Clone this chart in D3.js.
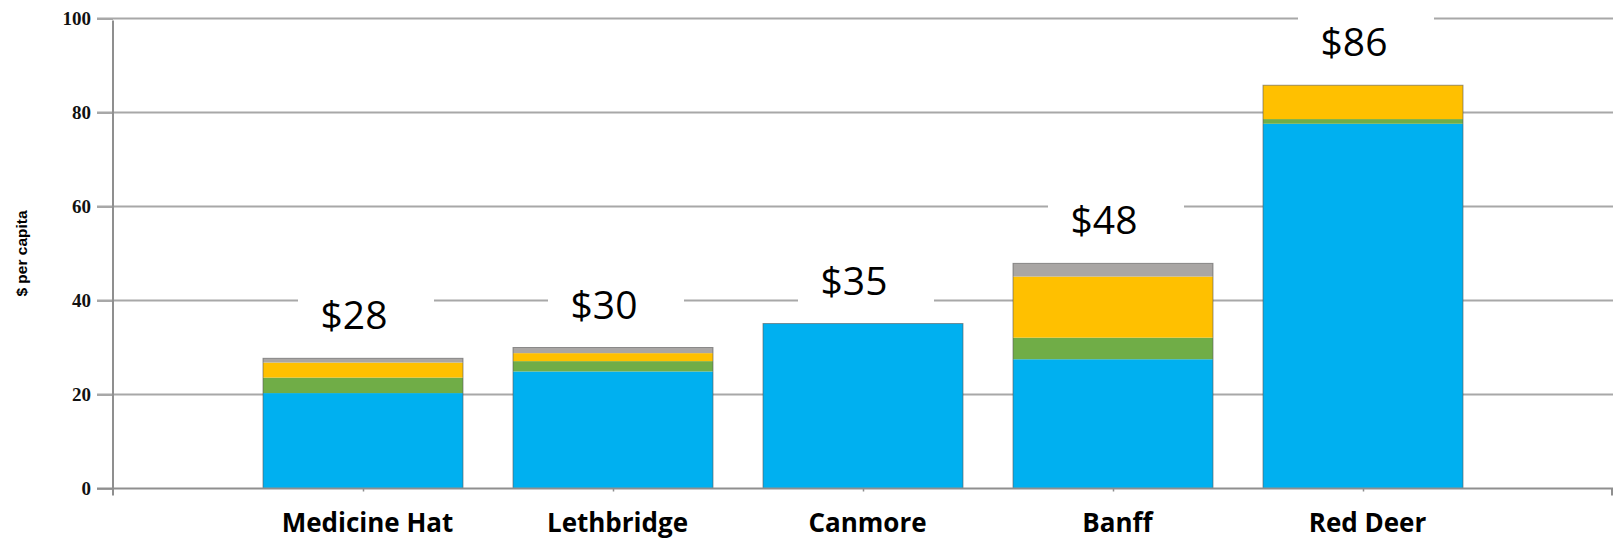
<!DOCTYPE html>
<html>
<head>
<meta charset="utf-8">
<script src="https://cdn.jsdelivr.net/npm/d3@7"></script>
<style>
  body { margin: 0; background: #fff; }
  svg { display: block; }
</style>
</head>
<body>
<svg id="chart" width="1613" height="538"></svg>
<script>
// cities on the x axis
const towns = ["Medicine Hat", "Lethbridge", "Canmore", "Banff", "Red Deer"];

// stacked series, $ per capita
const blueVals   = [20.3, 24.9, 35.1, 27.5, 77.6];
const greenVals  = [3.3, 2.2, 0, 4.6, 1.0];
const yellowVals = [3.2, 1.7, 0, 13.0, 7.2];
const greyVals   = [0.9, 1.2, 0, 2.8, 0];

const yTicks = [0, 20, 40, 60, 80, 100];

const seriesKeys = ["blue", "green", "yellow", "grey"];
const colors = { blue: "#00b0f0", green: "#70ad47", yellow: "#ffc000", grey: "#a9a6a4" };

// table for d3.stack
const table = towns.map((t, i) => ({
    town: t,
    blue: blueVals[i],
    green: greenVals[i],
    yellow: yellowVals[i],
    grey: greyVals[i]
}));
table.forEach(d => d.total = seriesKeys.reduce((s, k) => s + d[k], 0));

const svg = d3.select("#chart");
const W = 1613;
const left = 113;

const x = d3.scalePoint().domain(towns).range([left, W]).padding(1);
const y = d3.scaleLinear().domain([0, 100]).range([488.5, 18.5]);
const barW = 200;

// gridlines (behind bars)
svg.append("g")
    .selectAll("line")
    .data(yTicks.filter(t => t > 0))
    .join("line")
    .attr("x1", left - 16)
    .attr("x2", W)
    .attr("y1", d => y(d))
    .attr("y2", d => y(d))
    .attr("stroke", "#a8a8a8")
    .attr("stroke-width", 2);

// stacked bars
const stacked = d3.stack().keys(seriesKeys)(table);

svg.append("g")
    .selectAll("g")
    .data(stacked)
    .join("g")
    .attr("fill", d => colors[d.key])
    .selectAll("rect")
    .data(d => d)
    .join("rect")
    .attr("x", d => x(d.data.town) - barW / 2)
    .attr("width", barW)
    .attr("y", d => y(d[1]))
    .attr("height", d => y(d[0]) - y(d[1]));

// thin outline around each whole bar
svg.append("g")
    .selectAll("rect")
    .data(table)
    .join("rect")
    .attr("x", d => x(d.town) - barW / 2)
    .attr("width", barW)
    .attr("y", d => y(d.total))
    .attr("height", d => y(0) - y(d.total))
    .attr("fill", "none")
    .attr("stroke", "#595959")
    .attr("stroke-opacity", 0.6)
    .attr("stroke-width", 1);

// total labels with white boxes
const labels = svg.append("g")
    .selectAll("g")
    .data(table)
    .join("g")
    .attr("transform", d => `translate(${x(d.town) - 9},${y(d.total) - 29})`);

labels.append("rect")
    .attr("x", -56)
    .attr("y", -46)
    .attr("width", 136)
    .attr("height", 59)
    .attr("fill", "#fff");

labels.append("text")
    .attr("text-anchor", "middle")
    .attr("font-family", "'Open Sans', sans-serif")
    .attr("font-size", 39)
    .attr("fill", "#000")
    .text(d => "$" + Math.round(d.total));

// y axis
const yAxis = svg.append("g")
    .attr("transform", `translate(${left},0)`)
    .call(d3.axisLeft(y).tickValues(yTicks).tickSize(16).tickPadding(6));
yAxis.select(".domain").remove();
yAxis.selectAll(".tick line").attr("stroke", "#a8a8a8").attr("stroke-width", 2);
yAxis.selectAll(".tick text")
    .attr("font-family", "'Liberation Serif', serif")
    .attr("font-weight", "bold")
    .attr("font-size", 19)
    .attr("fill", "#111")
    .attr("dy", "0.34em");

svg.append("line")
    .attr("x1", left).attr("x2", left)
    .attr("y1", y(100) + 2).attr("y2", y(0) + 7)
    .attr("stroke", "#8f8f8f")
    .attr("stroke-width", 2);

// x axis
const xAxis = svg.append("g")
    .attr("transform", `translate(0,${y(0)})`)
    .call(d3.axisBottom(x).tickSize(3));
xAxis.select(".domain").remove();
xAxis.selectAll(".tick line").attr("stroke", "#8f8f8f").attr("stroke-width", 1.5);
xAxis.selectAll(".tick text")
    .attr("font-family", "'Open Sans', sans-serif")
    .attr("font-weight", "bold")
    .attr("font-size", 26)
    .attr("fill", "#000")
    .attr("x", 4)
    .attr("y", 43)
    .attr("dy", 0);

svg.append("line")
    .attr("x1", left - 16).attr("x2", W)
    .attr("y1", y(0)).attr("y2", y(0))
    .attr("stroke", "#8f8f8f")
    .attr("stroke-width", 2);

svg.append("line")
    .attr("x1", x.range()[1] - 1).attr("x2", x.range()[1] - 1)
    .attr("y1", y(0)).attr("y2", y(0) + 7)
    .attr("stroke", "#8f8f8f")
    .attr("stroke-width", 2);

// y axis title
svg.append("text")
    .attr("transform", `translate(27,${(y(0) + y(100)) / 2}) rotate(-90)`)
    .attr("text-anchor", "middle")
    .attr("font-family", "'Liberation Sans', Arial, sans-serif")
    .attr("font-weight", "bold")
    .attr("font-size", 15.5)
    .attr("fill", "#000")
    .text("$ per capita");
</script>
</body>
</html>
